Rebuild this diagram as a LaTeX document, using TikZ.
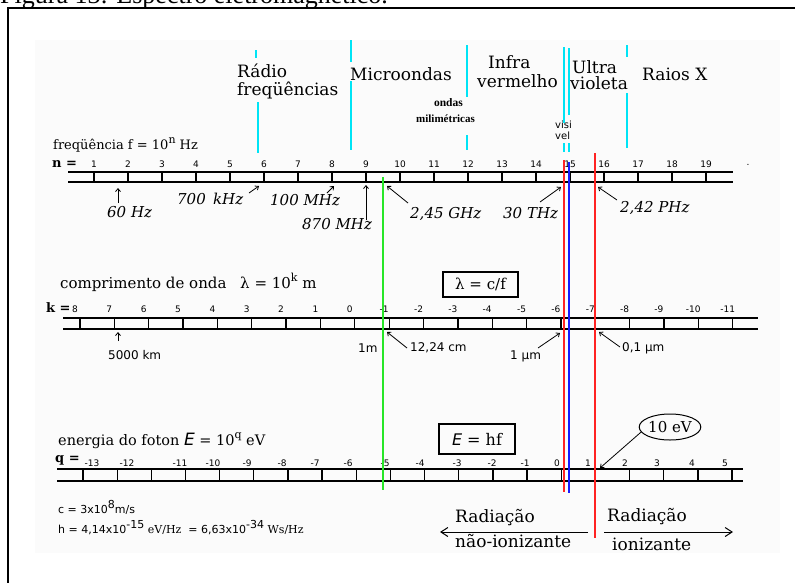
\documentclass[tikz,border=0pt]{standalone}
\usepackage{fontspec}
\setmainfont{DejaVu Serif}
\newfontfamily\lsans{Liberation Sans}
\newfontfamily\dsans{DejaVu Sans}
\newfontfamily\lserif{Liberation Serif}
\usetikzlibrary{arrows.meta,shapes.geometric}
\definecolor{bandcyan}{RGB}{0,228,245}
\definecolor{vgreen}{RGB}{40,230,40}
\definecolor{vred}{RGB}{255,35,35}
\definecolor{vblue}{RGB}{25,25,255}
\definecolor{panel}{RGB}{251,251,251}
\newcommand\fs[1]{\fontsize{#1}{#1}\selectfont}
\newcommand\upx[1]{\raisebox{0.45em}{\fs{11}#1}}
\begin{document}
\begin{tikzpicture}[x=1pt,y=-1pt,
  axisline/.style={line width=1.3pt,black},
  band/.style={line width=2pt,bandcyan},
  marker/.style={line width=2pt},
  num/.style={font=\dsans\fs{9},inner sep=0pt,anchor=base},
  big/.style={font=\fs{17},inner sep=0pt,anchor=base west},
  ttl/.style={font=\fs{13},inner sep=0pt,anchor=base west},
  eq/.style={font=\bfseries\fs{13},inner sep=0pt,anchor=base west},
  ital/.style={font=\itshape\fs{15},inner sep=0pt,anchor=base west},
  small/.style={font=\dsans\fs{12},inner sep=0pt,anchor=base west},
  ptr/.style={line width=0.8pt,-{Straight Barb[length=3pt,width=5pt]}},
  radarrow/.style={line width=1pt,-{Straight Barb[length=7pt,width=9pt]}},
]
\useasboundingbox (0,0) rectangle (795,582);
\clip (0,0) rectangle (795,582);
% caption, frame, panel
\node[font=\lserif\fs{26},anchor=base west,inner sep=0pt] (cap) at (0,3) {Figura 13: Espectro eletromagnético.};
\fill[panel] (35,40) rectangle (780,553);
\draw[line width=2pt] (8,600) -- (8,8) -- (800,8);

% ---------- band names ----------
\node[big] (radio) at (237,77) {Rádio};
\node[big] (freqs) at (237,95) {freqüências};
\node[big] (micro) at (350,80) {Microondas};
\node[big] (infra) at (488,68) {Infra};
\node[big] (verm) at (477,87) {vermelho};
\node[big] (ultra) at (572,73) {Ultra};
\node[big] (viol) at (570,89) {violeta};
\node[big] (raiosx) at (642,80) {Raios X};
\node[font=\lserif\bfseries\fs{11.5},anchor=base east,inner sep=0pt] (ondas) at (463,106) {ondas};
\node[font=\lserif\bfseries\fs{11},anchor=base west,inner sep=0pt] (mili) at (416,122) {milimétricas};
\node[font=\dsans\fs{10},anchor=base west,inner sep=0pt] (visi) at (555,128) {visi};
\node[font=\dsans\fs{10},anchor=base west,inner sep=0pt] (vel) at (555,139) {vel};

% ---------- frequency axis ----------
\node[ttl] (ftitle) at (53,149) {freqüência f = 10\upx{n} Hz};
\node[eq] (neq) at (52,167) {n =};
\draw[axisline] (68,172) -- (733,172) (68,182) -- (733,182);
\foreach \n in {1,...,19} {
  \draw[axisline] ({60+34*\n},172) -- ({60+34*\n},182);
  \node[num] (n\n) at ({60+34*\n},167) {\n};
}
\node[num] (dot) at (748,165) {.};

\node[ital] (l60) at (107,217) {60 Hz};
\coordinate (t60) at (118,203); \coordinate (p60) at (118,188);
\draw[ptr] (t60) -- (p60);
\node[ital] (l700) at (177,204) {700\, kHz};
\coordinate (t700) at (249,193); \coordinate (p700) at (259,186);
\draw[ptr] (t700) -- (p700);
\node[ital] (l100) at (270,205) {100 MHz};
\coordinate (t100) at (327,193); \coordinate (p100) at (334,186);
\draw[ptr] (t100) -- (p100);
\node[ital] (l870) at (302,229) {870 MHz};
\coordinate (t870) at (366,220); \coordinate (p870) at (366,185);
\draw[ptr] (t870) -- (p870);
\node[ital] (l245) at (410,218) {2,45 GHz};
\coordinate (t245) at (408,203); \coordinate (p245) at (387,186);
\draw[ptr] (t245) -- (p245);
\node[ital] (l30) at (503,218) {30 THz};
\coordinate (t30) at (540,202); \coordinate (p30) at (561,187);
\draw[ptr] (t30) -- (p30);
\node[ital] (l242) at (620,212) {2,42 PHz};
\coordinate (t242) at (617,200); \coordinate (p242) at (598,187);
\draw[ptr] (t242) -- (p242);

% ---------- wavelength axis ----------
\node[ttl,font=\fs{15}] (ktitle) at (60,288) {comprimento de onda\hspace{9pt} λ = 10\upx{k} m};
\node[eq] (keq) at (46,312) {k =};
\node[draw,line width=1.2pt,minimum width=75pt,minimum height=25pt,inner sep=0pt,font=\fs{15}] (lcf) at (480.5,284.5) {λ = c/f};
\draw[axisline] (63,318) -- (758,318) (63,329) -- (758,329);
\foreach \i [evaluate=\i as \k using int(8-\i)] in {0,...,19} {
  \draw[axisline] ({80+34.35*\i},318) -- ({80+34.35*\i},329);
  \node[num] (k\i) at ({80+34.35*\i-5},312) {\k};
}
\coordinate (t5000) at (118,341); \coordinate (p5000) at (118,332);
\draw[ptr] (t5000) -- (p5000);
\node[small] (l5000) at (108,359) {5000 km};
\node[small] (l1m) at (358,352) {1m};
\node[small] (l1224) at (410,351) {12,24 cm};
\coordinate (t1224) at (407,348); \coordinate (p1224) at (387,332);
\draw[ptr] (t1224) -- (p1224);
\node[small] (l1um) at (510,359) {1 µm};
\coordinate (t1um) at (538,348); \coordinate (p1um) at (560,333);
\draw[ptr] (t1um) -- (p1um);
\node[small] (l01um) at (622,351) {0,1 µm};
\coordinate (t01um) at (620,347); \coordinate (p01um) at (599,332);
\draw[ptr] (t01um) -- (p01um);

% ---------- energy axis ----------
\node[ttl,font=\fs{14.5}] (etitle) at (58,445) {energia do foton {\dsans\itshape\fs{17}E} = 10\upx{q} eV};
\node[eq] (qeq) at (55,462) {q =};
\node[draw,line width=1.2pt,minimum width=76pt,minimum height=30pt,inner sep=0pt,font=\fs{16}] (ehf) at (477,439) {{\dsans\itshape E} = hf};
\node[draw,ellipse,line width=1pt,minimum width=61pt,minimum height=26pt,inner sep=0pt,font=\fs{15}] (ev) at (670,427) {10 eV};
\coordinate (p10ev) at (600,468);
\draw[ptr] (ev.190) -- (p10ev);
\draw[axisline] (57,469) -- (743,469) (57,481) -- (743,481);
\foreach \i in {0,...,19} \draw[axisline] ({83+34.16*\i},469) -- ({83+34.16*\i},481);
\foreach \x/\q [count=\c] in {92/-13,127/-12,180/-11,213/-10,247/-9,282/-8,315/-7,348/-6,385/-5,420/-4,457/-3,492/-2,525/-1,557/0,588/1,625/2,657/3,692/4,725/5}
  \node[num] (q\c) at (\x,466) {\q};

% constants
\node[small,font=\dsans\fs{11}] (cc) at (58,513) {c = 3x10\upx{8}m/s};
\node[small,font=\dsans\fs{11}] (hh) at (58,533) {h = 4,14x10\upx{-15} {\rmfamily eV/Hz} \ = 6,63x10\upx{-34} {\rmfamily Ws/Hz}};

% ionizing / non-ionizing
\node[big] (rad1) at (455,522) {Radiação};
\node[big] (nion) at (455,547) {não-ionizante};
\node[big] (rad2) at (607,521) {Radiação};
\node[big] (ion) at (612,550) {ionizante};
\coordinate (a1s) at (588,532); \coordinate (a1e) at (440,532);
\coordinate (a2s) at (604,532); \coordinate (a2e) at (733,532);
\draw[radarrow] (a1s) -- (a1e);
\draw[radarrow] (a2s) -- (a2e);

% ---------- band boundary lines ----------
\draw[band] (256,50) -- (256,58) (258,102) -- (258,153);
\draw[band] (351,40) -- (351,62) (351,81) -- (351,150);
\draw[band] (467,45) -- (467,97) (467,135) -- (467,150);
\draw[band] (564,47) -- (564,123) (564,143) -- (564,152);
\draw[band] (569,48) -- (569,115) (569,143) -- (569,152);
\draw[band] (627,45) -- (627,57) (627,93) -- (627,148);

% ---------- marker lines ----------
\draw[marker,vgreen] (383,177) -- (383,490);
\draw[marker,vred] (564,160) -- (564,492);
\draw[marker,vblue] (569,162) -- (569,493);
\draw[marker,vred] (595,153) -- (595,538);
\end{tikzpicture}
\end{document}
